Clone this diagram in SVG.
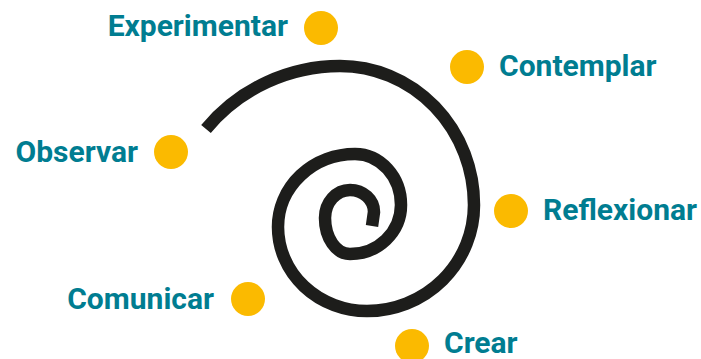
<svg xmlns="http://www.w3.org/2000/svg" width="701" height="359" viewBox="0 0 701 359">
<style>
.lbl{font-family:Roboto,"Liberation Sans",sans-serif;font-weight:700;font-size:30px;fill:#007d91}
.dot{fill:#fbba00}
.spiral{fill:none;stroke:#1d1d1b;stroke-width:12.5;stroke-linecap:butt}
</style>
<rect width="701" height="359" fill="#fff"/>
<g id="spiral">
<path class="spiral" d="M206,129 C240,88 290,66 340,66 A134,139 0 0 1 474,205 A107,106 0 0 1 367,311 A89,84 0 0 1 278,227 A77,73 0 0 1 355,154 A46,51 0 0 1 401,205 A51,49 0 0 1 350,254 A25,36 0 0 1 325,218 A25,28 0 0 1 350,190 A24,22 0 0 1 374,212 L372,226"/>
</g>
<g id="experimentar"><circle class="dot" cx="321" cy="28" r="17"/><text class="lbl" x="288" y="36" text-anchor="end">Experimentar</text></g>
<g id="contemplar"><circle class="dot" cx="467" cy="67" r="17"/><text class="lbl" x="499" y="76">Contemplar</text></g>
<g id="observar"><circle class="dot" cx="171" cy="152" r="17"/><text class="lbl" x="138" y="162" text-anchor="end">Observar</text></g>
<g id="reflexionar"><circle class="dot" cx="511" cy="211" r="17"/><text class="lbl" x="543" y="220">Reflexionar</text></g>
<g id="comunicar"><circle class="dot" cx="248" cy="299" r="17"/><text class="lbl" x="214" y="309" text-anchor="end">Comunicar</text></g>
<g id="crear"><circle class="dot" cx="412" cy="346" r="17"/><text class="lbl" x="444" y="353">Crear</text></g>
</svg>
